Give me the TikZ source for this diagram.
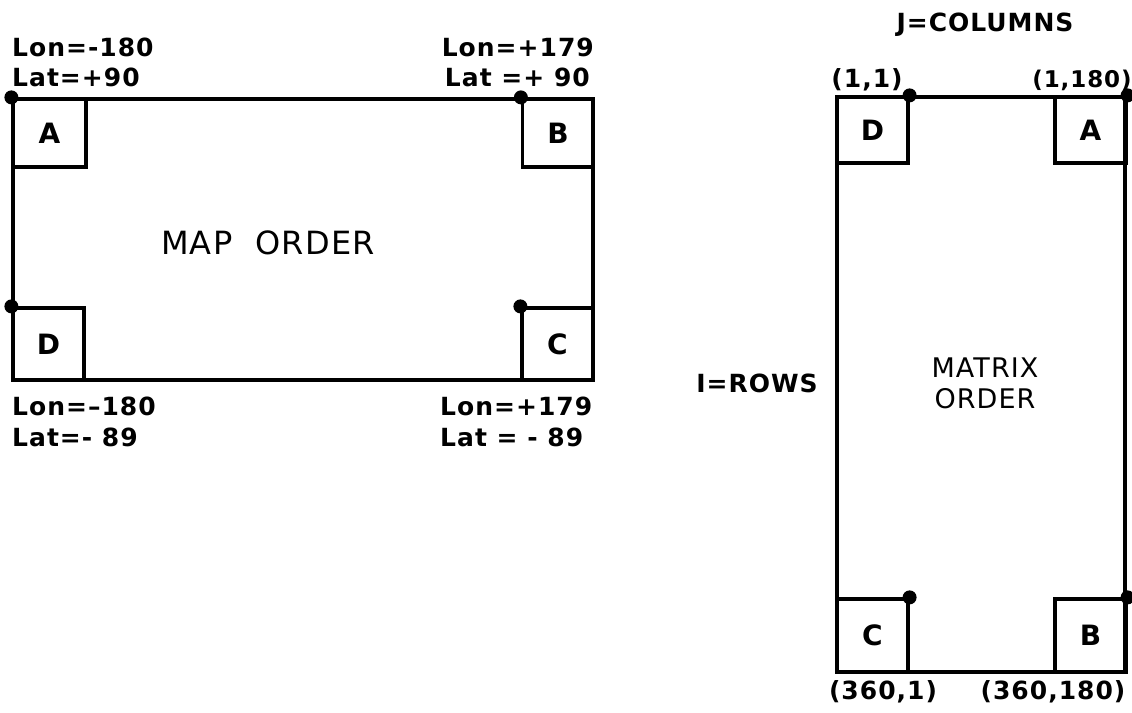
\documentclass[tikz,border=0pt]{standalone}
\usepackage{fontspec}
\setmainfont{DejaVu Sans}[LetterSpace=4]
\begin{document}
\begin{tikzpicture}[x=1pt,y=-1pt,
  frame/.style={draw,line width=3.6pt},
  cbox/.style={draw,line width=3.2pt,minimum width=#1,inner sep=0pt,font=\fontsize{28}{28}\selectfont\bfseries},
  lab/.style={inner sep=0pt,font=\fontsize{25}{30}\selectfont\bfseries},
  dot/.style={circle,fill,inner sep=0pt,minimum size=14pt}]
\useasboundingbox (0,0) rectangle (1132,712);
% ---- map order ----
\node[frame,minimum width=580pt,minimum height=281pt,inner sep=0pt] (map) at (303,239.5) {};
\node[cbox=73pt,minimum height=68pt] (A1) at (49.5,133) {A};
\node[cbox=71pt,minimum height=68pt] (B1) at (558,133) {B};
\node[cbox=71pt,minimum height=72pt] (D1) at (48.5,344) {D};
\node[cbox=71pt,minimum height=72pt] (C1) at (557.5,344) {C};
\node[dot] (dA1) at (A1.north west) {};
\node[dot] (dB1) at (B1.north west) {};
\node[dot] (dD1) at (D1.north west) {};
\node[dot] (dC1) at (C1.north west) {};
\node[lab,font=\fontsize{32}{32}\selectfont] (mapt) at (268,243) {MAP\ \ ORDER};
\node[lab,align=left,anchor=west] (tl1) at (12,47) {Lon=-180};
\node[lab,align=left,anchor=west] (tl2) at (12,77) {Lat=+90};
\node[lab,align=right,anchor=east] (tr1) at (594,47) {Lon=+179};
\node[lab,align=right,anchor=east] (tr2) at (590,77) {Lat =+ 90};
\node[lab,align=left,anchor=west] (bl1) at (12,406) {Lon=--180};
\node[lab,align=left,anchor=west] (bl2) at (12,437) {Lat=- 89};
\node[lab,align=left,anchor=west] (br1) at (440,406) {Lon=+179};
\node[lab,align=left,anchor=west] (br2) at (440,437) {Lat = - 89};
% ---- matrix order ----
\node[frame,minimum width=288pt,minimum height=575pt,inner sep=0pt] (mat) at (981,384.5) {};
\node[cbox=71pt,minimum height=66pt] (D2) at (872.5,130) {D};
\node[cbox=71pt,minimum height=66pt] (A2) at (1090.5,130) {A};
\node[cbox=71pt,minimum height=73pt] (C2) at (872.5,635.5) {C};
\node[cbox=71pt,minimum height=73pt] (B2) at (1090.5,635.5) {B};
\node[dot] (dD2) at (D2.north east) {};
\node[dot] (dA2) at (A2.north east) {};
\node[dot] (dC2) at (C2.north east) {};
\node[dot] (dB2) at (B2.north east) {};
\node[lab,align=center,font=\fontsize{27}{31}\selectfont] (matt) at (985,383) {MATRIX\\ORDER};
\node[lab] (cols) at (985,25) {J=COLUMNS};
\node[lab] (rows) at (757,383) {I=ROWS};
\node[lab] (c11) at (867,80) {(1,1)};
\node[lab,font=\fontsize{23}{30}\selectfont\bfseries] (c1180) at (1082,80) {(1,180)};
\node[lab] (c3601) at (883,692) {(360,1)};
\node[lab] (c360180) at (1053,692) {(360,180)};
\end{tikzpicture}
\end{document}
